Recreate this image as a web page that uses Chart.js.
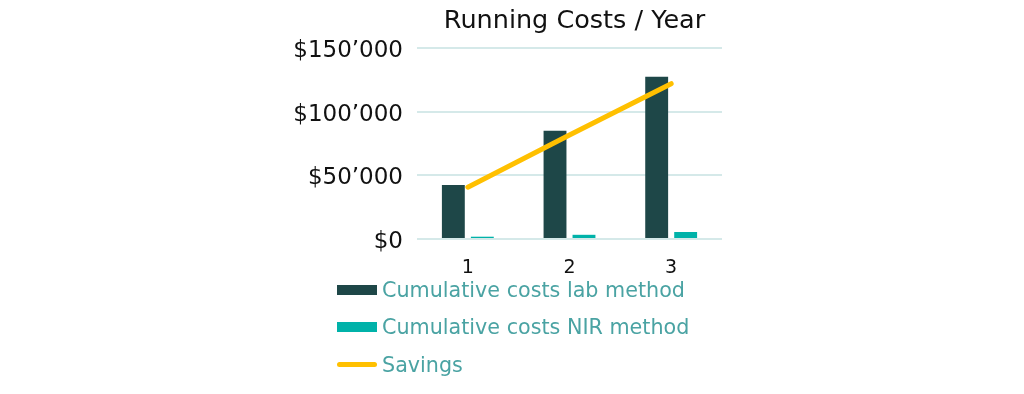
<!DOCTYPE html>
<html>
<head>
<meta charset="utf-8">
<script src="https://cdn.jsdelivr.net/npm/chart.js@4.4.1/dist/chart.umd.min.js"></script>
<style>
  html, body { margin: 0; padding: 0; background: #fff; }
  #wrap { position: relative; width: 1024px; height: 394px; }
  #legend { position: absolute; left: 337px; top: 271px; font-family: "DejaVu Sans", Verdana, sans-serif; font-size: 20.7px; color: #4AA3A3; }
  #legend .item { display: flex; align-items: center; height: 37.5px; }
  #legend .swatch { width: 40px; height: 10px; margin-right: 5px; }
  #legend .line { height: 5px; border-radius: 3px; }
</style>
</head>
<body>
<div id="wrap">
  <canvas id="costChart" width="1024" height="394"></canvas>
  <div id="legend"></div>
</div>
<script>
const labels = ['1', '2', '3'];
const labCosts = [42500, 85000, 127500];
const nirCosts = [1800, 3300, 5500];
const savings = [40700, 81700, 122000];
const yTicks = [0, 50000, 100000, 150000];

const fmtMoney = v => '$' + String(v).replace(/\B(?=(\d{3})+(?!\d))/g, '\u2019');

// title is centred a bit right of the plot area in the original
const titlePlugin = {
    id: 'sideTitle',
    afterDraw(chart) {
        const { ctx, chartArea } = chart;
        ctx.save();
        ctx.font = '25.5px "DejaVu Sans", Verdana, sans-serif';
        ctx.fillStyle = '#111';
        ctx.textAlign = 'center';
        ctx.textBaseline = 'middle';
        ctx.fillText('Running Costs / Year', (chartArea.left + chartArea.right) / 2 + 5, chartArea.top - 27);
        ctx.restore();
    }
};

const ctx = document.getElementById('costChart').getContext('2d');
const chart = new Chart(ctx, {
    type: 'bar',
    data: {
        labels: labels,
        datasets: [
            {
                type: 'line',
                label: 'Savings',
                data: savings,
                borderColor: '#FFC000',
                backgroundColor: '#FFC000',
                borderWidth: 5,
                borderCapStyle: 'round',
                pointRadius: 0,
                order: 0
            },
            {
                label: 'Cumulative costs lab method',
                data: labCosts,
                backgroundColor: '#1E4748',
                categoryPercentage: 0.57,
                barPercentage: 0.79,
                order: 1
            },
            {
                label: 'Cumulative costs NIR method',
                data: nirCosts,
                backgroundColor: '#00B2A9',
                categoryPercentage: 0.57,
                barPercentage: 0.79,
                order: 1
            }
        ]
    },
    options: {
        responsive: false,
        animation: false,
        layout: { padding: { left: 0, right: 302, top: 48, bottom: 115 } },
        plugins: { legend: { display: false }, tooltip: { enabled: false } },
        scales: {
            x: {
                grid: { display: false },
                border: { display: false },
                ticks: { color: '#111', padding: 10, font: { family: '"DejaVu Sans", Verdana, sans-serif', size: 19 } },
                afterFit: s => { s.height = 40; }
            },
            y: {
                min: 0,
                max: 150000,
                afterBuildTicks: s => { s.ticks = yTicks.map(v => ({ value: v })); },
                grid: { color: '#D5E9E9', lineWidth: 2, drawTicks: false },
                border: { display: false },
                ticks: {
                    color: '#111',
                    padding: 14,
                    labelOffset: 3,
                    font: { family: '"DejaVu Sans", Verdana, sans-serif', size: 23 },
                    callback: v => fmtMoney(v)
                },
                afterFit: s => { s.width = 417; }
            }
        }
    },
    plugins: [titlePlugin]
});

// legend in the original order: lab, NIR, savings
const legendEl = document.getElementById('legend');
[1, 2, 0].forEach(i => {
    const ds = chart.data.datasets[i];
    const item = document.createElement('div');
    item.className = 'item';
    const sw = document.createElement('span');
    sw.className = 'swatch' + (ds.type === 'line' ? ' line' : '');
    sw.style.background = ds.type === 'line' ? ds.borderColor : ds.backgroundColor;
    const txt = document.createElement('span');
    txt.textContent = ds.label;
    item.appendChild(sw);
    item.appendChild(txt);
    legendEl.appendChild(item);
});
</script>
</body>
</html>
